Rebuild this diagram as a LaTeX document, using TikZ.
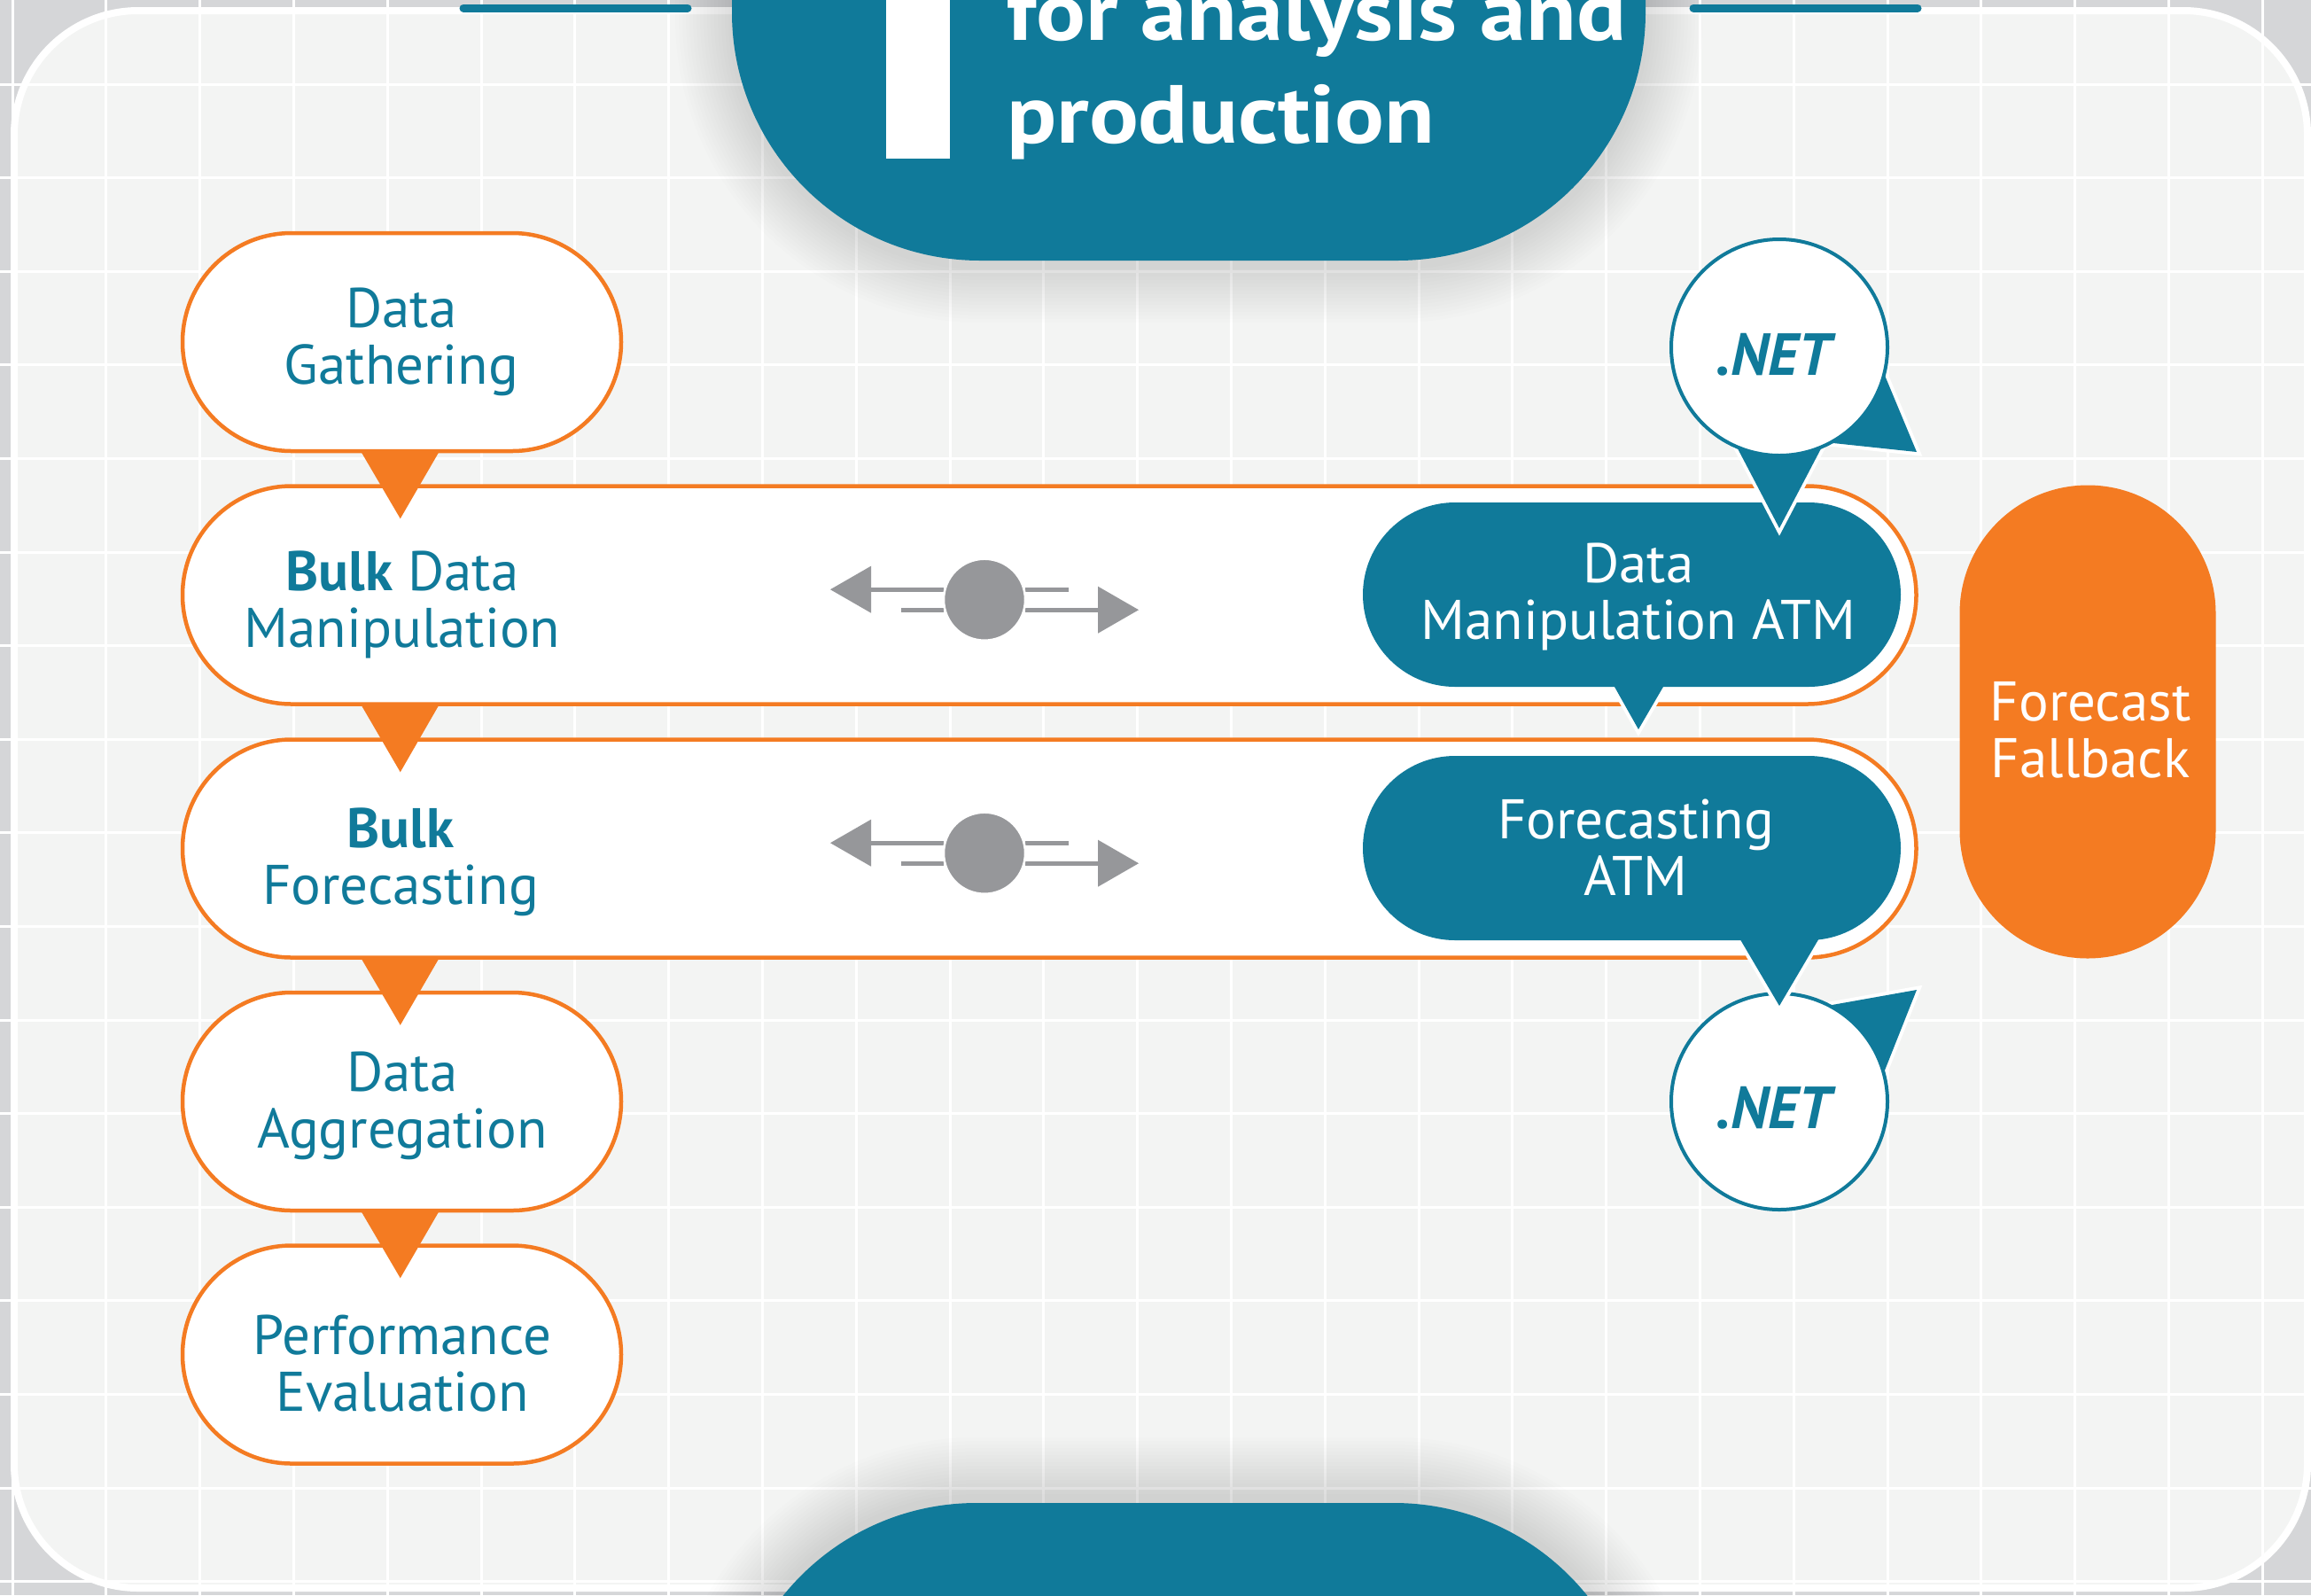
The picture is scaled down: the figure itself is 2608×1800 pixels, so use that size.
\documentclass[tikz,border=0pt]{standalone}
\usepackage{fontspec}
\setmainfont{PT Sans}
\newfontfamily\headfont[FakeStretch=1.12]{PT Sans Bold}
\usetikzlibrary{calc}

\definecolor{flowteal}{HTML}{107A9A}
\definecolor{floworange}{HTML}{F47B22}
\definecolor{panelbg}{HTML}{F3F4F3}
\definecolor{outerbg}{HTML}{D5D6D8}
\definecolor{icongray}{HTML}{96979A}

\tikzset{
  stagepill/.style={draw=floworange, line width=4.5pt, fill=white,
    rounded corners=123pt, minimum height=246pt, inner sep=0pt},
  atmpill/.style={fill=flowteal, rounded corners=104pt,
    minimum height=208pt, minimum width=607pt, inner sep=0pt},
  netbubble/.style={circle, draw=flowteal, line width=4pt, fill=white,
    minimum size=244pt, inner sep=0pt},
  fallbackpill/.style={fill=floworange, rounded corners=144.5pt,
    minimum width=289pt, minimum height=534pt, inner sep=0pt},
  tailhalo/.style={draw=white, line width=8pt, line join=miter},
  tailbody/.style={fill=flowteal},
  flowtip/.style={fill=floworange},
  labeltext/.style={text=flowteal, align=center, inner sep=0pt,
    font=\fontsize{63}{64}\selectfont},
  whitelabel/.style={labeltext, text=white},
  nettext/.style={text=flowteal, inner sep=0pt,
    font=\fontsize{67}{67}\selectfont\bfseries\itshape},
  titletext/.style={text=white, inner sep=0pt, anchor=base west,
    font=\headfont\fontsize{93}{116}\selectfont},
  swapicon/.pic={
    \draw[icongray, line width=4.7pt] (-128.5,-11.5) -- (-46,-11.5);
    \draw[icongray, line width=4.7pt] (-94.3,11.5) -- (-46,11.5);
    \draw[icongray, line width=4.7pt] (46,-11.5) -- (94.7,-11.5);
    \draw[icongray, line width=4.7pt] (46,11.5) -- (128.5,11.5);
    \fill[icongray] (-174,-11.5) -- (-128,-38) -- (-128,15) -- cycle;
    \fill[icongray] (174,11.5) -- (128,-15) -- (128,38) -- cycle;
    \filldraw[fill=icongray, draw=white, line width=2.5pt] (0,0) circle (46);
  }
}

\begin{document}
\begin{tikzpicture}[x=1pt,y=-1pt]
\useasboundingbox (0,0) rectangle (2608,1800);
\clip (0,0) rectangle (2608,1800);

% backdrop, panel and grid
\fill[outerbg] (0,0) rectangle (2608,1800);
\fill[panelbg, rounded corners=140] (16,12) rectangle (2604,1792);
\foreach \k in {0,...,24}
  \draw[white, line width=3] ({14+\k*105.8},0) -- ({14+\k*105.8},1800);
\foreach \k in {1,...,17}
  \draw[white, line width=3] (0,{-10.6+\k*105.6}) -- (2608,{-10.6+\k*105.6});
\draw[white, line width=8, rounded corners=140] (16,12) rectangle (2604,1792);

% header tab with soft shadow
\foreach \d in {4,8,...,64}
  \fill[black, opacity=0.008, rounded corners={280+\d}]
    ({826-\d},-400) rectangle ({1857+\d},{300+\d});
\fill[flowteal, rounded corners=280] (826,-400) rectangle (1857,294);
\fill[white] (1000,-50) rectangle (1072,179);
\node[titletext] (title1) at (1136,45) {for analysis and};
\node[titletext] (title2) at (1136,161) {production};

% footer tab with soft shadow
\foreach \d in {4,8,...,68}
  \fill[black, opacity=0.008, rounded corners={280+\d}]
    ({822-\d},{1690-\d}) rectangle ({1853+\d},2400);
\fill[flowteal, rounded corners=280] (822,1696) rectangle (1853,2400);

% small tabs on the panel edge
\draw[flowteal, line width=9, line cap=round] (523,9) -- (776,9);
\draw[flowteal, line width=9, line cap=round] (1911,9) -- (2164,9);

% process stages
\node[stagepill, minimum width=495pt] (dg) at (453.5,386) {};
\node[stagepill, minimum width=1956.5pt] (bdm) at (1184.25,671.5) {};
\node[stagepill, minimum width=1956.5pt] (bf) at (1184.25,957.5) {};
\node[stagepill, minimum width=495pt] (da) at (453.5,1243) {};
\node[stagepill, minimum width=495pt] (pe) at (453.5,1528.5) {};

% flow markers between stages
\foreach \a/\b in {dg/bdm, bdm/bf, bf/da, da/pe}
  \fill[flowtip] ($(\a.south west)+(204,-1)$) -- ($(\a.south west)+(291.5,-1)$)
    -- ($(\b.north west)+(248,39)$) -- cycle;

% fallback column
\node[fallbackpill] (ffb) at (2356,814.5) {};
\node[whitelabel] (ffbtext) at (2359,824) {Forecast\\Fallback};

% two-way exchange icons
\pic at ($(bdm.center)+(-73.25,5.2)$) {swapicon};
\pic at ($(bf.center)+(-73.25,5.2)$) {swapicon};

% data manipulation ATM bubble
\coordinate (dmatmc) at (1841.5,671);
\draw[tailhalo] ($(dmatmc)+(-33,80)$) -- ($(dmatmc)+(7.5,152)$) -- ($(dmatmc)+(49.5,80)$);
\fill[tailbody] ($(dmatmc)+(-33,80)$) -- ($(dmatmc)+(7.5,152)$) -- ($(dmatmc)+(49.5,80)$) -- cycle;
\node[atmpill] (dmatm) at (dmatmc) {};

% upper .NET bubble
\coordinate (net1c) at (2008,392);
\draw[tailhalo] ($(net1c)+(-66,78)$) -- ($(net1c)+(0,204)$) -- ($(net1c)+(66,78)$) -- cycle;
\fill[tailbody] ($(net1c)+(-66,78)$) -- ($(net1c)+(0,204)$) -- ($(net1c)+(66,78)$) -- cycle;
\draw[tailhalo] ($(net1c)+(110,10)$) -- ($(net1c)+(155,118)$) -- ($(net1c)+(42,106)$) -- cycle;
\fill[tailbody] ($(net1c)+(110,10)$) -- ($(net1c)+(155,118)$) -- ($(net1c)+(42,106)$) -- cycle;
\node[netbubble] (net1) at (net1c) {};
\node[nettext] (net1text) at ($(net1c)+(-7,8)$) {.NET};

% lower .NET bubble
\coordinate (net2c) at (2008,1243);
\draw[tailhalo] ($(net2c)+(37,-105)$) -- ($(net2c)+(155,-126)$) -- ($(net2c)+(109,-10)$) -- cycle;
\fill[tailbody] ($(net2c)+(37,-105)$) -- ($(net2c)+(155,-126)$) -- ($(net2c)+(109,-10)$) -- cycle;
\node[netbubble] (net2) at (net2c) {};
\node[nettext] (net2text) at ($(net2c)+(-7,7)$) {.NET};

% forecasting ATM bubble
\coordinate (fatmc) at (1841.5,957);
\draw[tailhalo] ($(fatmc)+(110.5,83)$) -- ($(fatmc)+(166.5,178)$) -- ($(fatmc)+(222.5,83)$);
\fill[tailbody] ($(fatmc)+(110.5,83)$) -- ($(fatmc)+(166.5,178)$) -- ($(fatmc)+(222.5,83)$) -- cycle;
\node[atmpill] (fatm) at (fatmc) {};

% labels
\node[labeltext] (dgtext) at (453,386) {Data\\Gathering};
\node[labeltext] (bdmtext) at (454,682) {\textbf{Bulk} Data\\Manipulation};
\node[labeltext] (bftext) at (452,973) {\textbf{Bulk}\\Forecasting};
\node[labeltext] (datext) at (454,1248) {Data\\Aggregation};
\node[labeltext] (petext) at (454,1539) {Performance\\Evaluation};
\node[whitelabel] (dmatmtext) at (1849,673.5) {Data\\Manipulation ATM};
\node[whitelabel] (fatmtext) at (1846,956.5) {Forecasting\\ATM};
\end{tikzpicture}
\end{document}
